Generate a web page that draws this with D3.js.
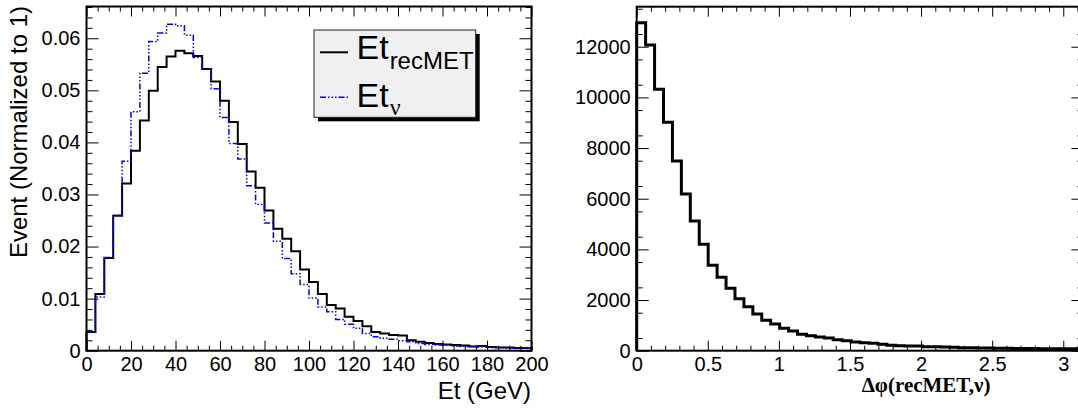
<!DOCTYPE html>
<html><head><meta charset="utf-8">
<script src="https://cdn.jsdelivr.net/npm/d3@7"></script>
<style>
html,body{margin:0;padding:0;background:#fff;}
svg{display:block;font-family:"Liberation Sans",Arial,Helvetica,sans-serif;}
</style></head>
<body>
<svg id="chart" width="1078" height="411"></svg>
<script>
// ---- data ----
const etRange = [0, 200];          // GeV, 50 bins of 4 GeV
const etNBins = 50;
const etRecMET = [0.0036,0.0109,0.0178,0.0259,0.0321,0.0384,0.0442,0.0499,0.0545,0.0565,
  0.0576,0.0571,0.0566,0.0541,0.0517,0.0480,0.0439,0.0397,0.0344,0.0313,
  0.0269,0.0234,0.0215,0.0191,0.0156,0.0132,0.0109,0.0088,0.0081,0.0065,
  0.0057,0.0047,0.0036,0.0033,0.0030,0.0029,0.0020,0.0017,0.0015,0.0013,
  0.0012,0.0011,0.0010,0.0008,0.0009,0.0007,0.0006,0.0006,0.0005,0.0005];
const etNu = [0.0036,0.0103,0.0179,0.0260,0.0364,0.0459,0.0533,0.0594,0.0610,0.0627,
  0.0624,0.0606,0.0563,0.0541,0.0503,0.0448,0.0398,0.0368,0.0317,0.0281,
  0.0245,0.0210,0.0177,0.0148,0.0127,0.0101,0.0084,0.0075,0.0060,0.0051,
  0.0043,0.0033,0.0027,0.0024,0.0022,0.0019,0.0017,0.0014,0.0012,0.0011,
  0.0010,0.0009,0.0008,0.0008,0.0007,0.0006,0.0006,0.0005,0.0005,0.0005];
const etYMax = 0.0661;
const etXTicks = [0,20,40,60,80,100,120,140,160,180,200];
const etYTicks = [0,0.01,0.02,0.03,0.04,0.05,0.06];
const etYTickLabels = ["0","0.01","0.02","0.03","0.04","0.05","0.06"];

const dphiRange = [0, Math.PI];    // 50 bins
const dphiNBins = 50;
const dphiCounts = [12950,12070,10320,9016,7490,6186,5120,4200,3370,2896,
  2462,2054,1738,1449,1199,1054,883,778,646,593,
  541,501,435,396,343,317,291,251,212,199,
  186,186,159,159,146,133,120,120,110,105,
  100,95,90,90,85,80,80,80,75,75];
const dphiYMax = 13580;
const dphiXTicks = [0,0.5,1,1.5,2,2.5,3];
const dphiYTicks = [0,2000,4000,6000,8000,10000,12000];

const legendLabels = [{main:"Et", sub:"recMET"}, {main:"Et", sub:"ν"}];

// ---- drawing ----
const SANS = '"Liberation Sans",Arial,Helvetica,sans-serif';
const SERIF = '"Liberation Serif","Times New Roman",serif';
const svg = d3.select("#chart");
svg.append("rect").attr("width",1078).attr("height",411).attr("fill","#fff");

function histPath(values, x, y, lo, hi, n) {
  const w = (hi - lo) / n;
  const p = d3.path();
  p.moveTo(x(lo), y(0));
  values.forEach((v, i) => {
    p.lineTo(x(lo + i * w), y(v));
    p.lineTo(x(lo + (i + 1) * w), y(v));
  });
  p.lineTo(x(hi), y(0));
  return p.toString();
}

function drawFrame(g, x, y, opt) {
  const [x0, x1] = x.range();
  const [yb, yt] = y.range();
  const majorLenX = 10, minorLenX = 5, majorLenY = 12, minorLenY = 6;
  const bottom = g.append("g").attr("transform", `translate(0,${yb})`)
    .call(d3.axisBottom(x).tickValues(opt.xTicks).tickSizeInner(-majorLenX).tickSizeOuter(0)
      .tickPadding(6).tickFormat(opt.xFmt));
  bottom.select(".domain").remove();
  bottom.selectAll("text").style("font-size", "20px").style("font-family", SANS);
  g.append("g").attr("transform", `translate(0,${yb})`)
    .call(d3.axisBottom(x).tickValues(opt.xMinor).tickSizeInner(-minorLenX).tickSizeOuter(0).tickFormat(""))
    .select(".domain").remove();
  g.append("g").attr("transform", `translate(0,${yt})`)
    .call(d3.axisTop(x).tickValues(opt.xTicks).tickSizeInner(-majorLenX).tickSizeOuter(0).tickFormat(""))
    .select(".domain").remove();
  g.append("g").attr("transform", `translate(0,${yt})`)
    .call(d3.axisTop(x).tickValues(opt.xMinor).tickSizeInner(-minorLenX).tickSizeOuter(0).tickFormat(""))
    .select(".domain").remove();
  const left = g.append("g").attr("transform", `translate(${x0},0)`)
    .call(d3.axisLeft(y).tickValues(opt.yTicks).tickSizeInner(-majorLenY).tickSizeOuter(0)
      .tickPadding(6).tickFormat(opt.yFmt));
  left.select(".domain").remove();
  left.selectAll("text").style("font-size", "20px").style("font-family", SANS);
  g.append("g").attr("transform", `translate(${x0},0)`)
    .call(d3.axisLeft(y).tickValues(opt.yMinor).tickSizeInner(-minorLenY).tickSizeOuter(0).tickFormat(""))
    .select(".domain").remove();
  g.append("g").attr("transform", `translate(${x1},0)`)
    .call(d3.axisRight(y).tickValues(opt.yTicks).tickSizeInner(-majorLenY).tickSizeOuter(0).tickFormat(""))
    .select(".domain").remove();
  g.append("g").attr("transform", `translate(${x1},0)`)
    .call(d3.axisRight(y).tickValues(opt.yMinor).tickSizeInner(-minorLenY).tickSizeOuter(0).tickFormat(""))
    .select(".domain").remove();
  g.selectAll(".tick line").attr("stroke", "#000").attr("stroke-width", 1);
  g.append("rect").attr("x", x0).attr("y", yt).attr("width", x1 - x0).attr("height", yb - yt)
    .attr("fill", "none").attr("stroke", "#000").attr("stroke-width", 2);
}

// ---------- left panel ----------
const xL = d3.scaleLinear().domain(etRange).range([86.5, 531.5]);
const yL = d3.scaleLinear().domain([0, etYMax]).range([350.7, 6.5]);
const gL = svg.append("g");

gL.append("path").attr("d", histPath(etRecMET, xL, yL, etRange[0], etRange[1], etNBins))
  .attr("fill", "none").attr("stroke", "#000").attr("stroke-width", 2);
gL.append("path").attr("d", histPath(etNu, xL, yL, etRange[0], etRange[1], etNBins))
  .attr("fill", "none").attr("stroke", "#0000ff").attr("stroke-width", 1.5)
  .attr("stroke-dasharray", "6,2,1.5,2,1.5,2,1.5,2");

drawFrame(gL, xL, yL, {
  xTicks: etXTicks,
  xMinor: d3.range(etRange[0], etRange[1] + 0.001, 5).filter(v => v % 20 !== 0),
  yTicks: etYTicks,
  yMinor: d3.range(0, etYMax, 0.002).filter(v => Math.abs(v / 0.01 - Math.round(v / 0.01)) > 1e-6),
  xFmt: d => String(d),
  yFmt: (d, i) => etYTickLabels[i]
});

gL.append("text").attr("x", 531).attr("y", 399).attr("text-anchor", "end")
  .style("font-size", "24px").style("font-family", SANS).text("Et (GeV)");
gL.append("text").attr("transform", "translate(26.5,6) rotate(-90)").attr("text-anchor", "end")
  .style("font-size", "24px").style("font-family", SANS).text("Event (Normalized to 1)");

// legend
const leg = gL.append("g");
leg.append("rect").attr("x", 318).attr("y", 34).attr("width", 161.7).attr("height", 87.3).attr("fill", "#000");
leg.append("rect").attr("x", 314).attr("y", 30).attr("width", 161.7).attr("height", 87.3)
  .attr("fill", "#f0f0f0").attr("stroke", "#222").attr("stroke-width", 1);
const legRows = [
  {lineY: 52.3, base: 59.3, stroke: "#000", width: 2, dash: null, subFont: SANS, subDy: 10},
  {lineY: 97.3, base: 107.3, stroke: "#0000ff", width: 1.5, dash: "6,2,1.5,2,1.5,2,1.5,2", subFont: SERIF, subDy: 8}
];
legendLabels.forEach((lab, i) => {
  const r = legRows[i];
  leg.append("line").attr("x1", 320).attr("x2", 348).attr("y1", r.lineY).attr("y2", r.lineY)
    .attr("stroke", r.stroke).attr("stroke-width", r.width).attr("stroke-dasharray", r.dash);
  const t = leg.append("text").attr("x", 356.5).attr("y", r.base)
    .style("font-size", "34px").style("font-family", SANS);
  t.append("tspan").text(lab.main);
  t.append("tspan").attr("dx", 1).attr("dy", r.subDy).style("font-size", "24px")
    .style("font-family", r.subFont).text(lab.sub);
});

// ---------- right panel ----------
const xR = d3.scaleLinear().domain(dphiRange).range([636.7, 1083.4]);
const yR = d3.scaleLinear().domain([0, dphiYMax]).range([350.7, 6.7]);
const gR = svg.append("g");
gR.append("path").attr("d", histPath(dphiCounts, xR, yR, dphiRange[0], dphiRange[1], dphiNBins))
  .attr("fill", "none").attr("stroke", "#000").attr("stroke-width", 3);

drawFrame(gR, xR, yR, {
  xTicks: dphiXTicks,
  xMinor: d3.range(0, Math.PI, 0.1).filter(v => Math.abs(v * 2 - Math.round(v * 2)) > 1e-6),
  yTicks: dphiYTicks,
  yMinor: d3.range(500, dphiYMax, 1000),
  xFmt: d => String(d),
  yFmt: d => String(d)
});

gR.append("text").attr("x", 861.7).attr("y", 392)
  .style("font-size", "21px").style("font-family", SERIF).style("font-weight", "bold")
  .text("Δφ(recMET,ν)");
</script>
</body></html>
